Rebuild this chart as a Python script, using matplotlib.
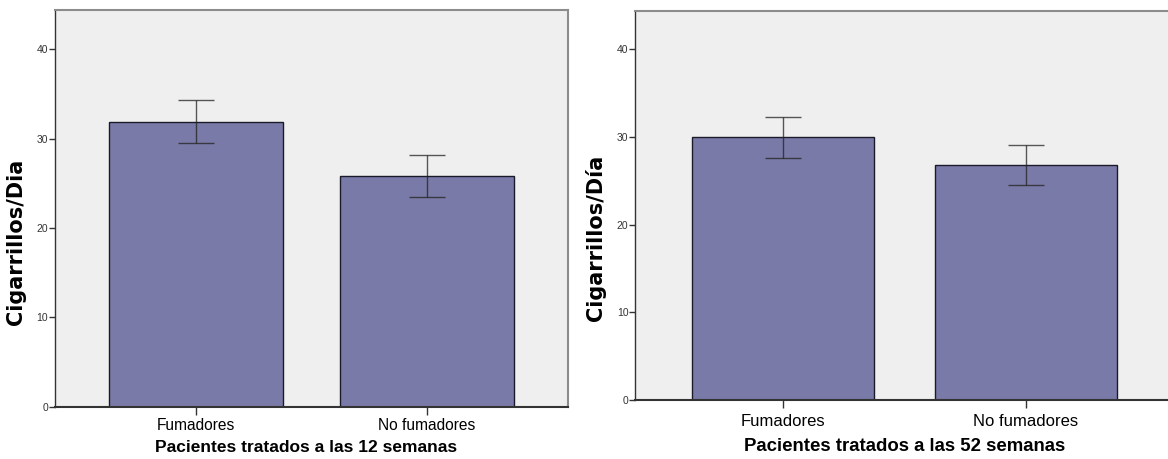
import matplotlib
matplotlib.use("Agg")
import matplotlib.pyplot as plt

plt.rcParams['font.family'] = ['Liberation Sans', 'DejaVu Sans']

categories = ["Fumadores", "No fumadores"]

# 12 weeks
means_12 = [31.9, 25.83]
err_low_12 = [29.5, 23.52]
err_high_12 = [34.34, 28.19]

# 52 weeks
means_52 = [30.0, 26.83]
err_low_52 = [27.6, 24.48]
err_high_52 = [32.3, 29.08]

ylabels = ["Cigarrillos/Dia", "Cigarrillos/Día"]
xlabels = ["Pacientes tratados a las 12 semanas", "Pacientes tratados a las 52 semanas"]
yticks = [0, 10, 20, 30, 40]

W, H = 1168, 459
fig = plt.figure(figsize=(W / 100, H / 100), dpi=100)
fig.patch.set_facecolor("white")

positions = [
    [55 / W, (H - 406.7) / H, (568 - 55) / W, (406.7 - 10) / H],
    [635.3 / W, (H - 400) / H, (1173.6 - 635.3) / W, (400 - 10.7) / H],
]
xtick_pads = [2, 4]
xtick_sizes = [11.2, 12.0]
xlabel_sizes = [12.5, 13.4]
ylabel_coords = [(-0.057, 0.415), (-0.055, 0.416)]
xlabel_coords = [(0.49, -0.085), (0.5, -0.098)]

bar_color = "#7a7aa8"
bg_color = "#efefef"

panels = [
    (means_12, err_low_12, err_high_12),
    (means_52, err_low_52, err_high_52),
]

for i, (means, lo, hi) in enumerate(panels):
    ax = fig.add_axes(positions[i])
    ax.set_facecolor(bg_color)
    x = list(range(len(categories)))
    ax.bar(x, means, width=0.752, color=bar_color, edgecolor="#1a1a2a",
           linewidth=1.0, zorder=2)
    yerr = [[m - l for m, l in zip(means, lo)], [h - m for m, h in zip(means, hi)]]
    ax.errorbar(x, means, yerr=yerr, fmt="none", ecolor="#222222", elinewidth=1.0,
                capsize=12.8, capthick=1.0, alpha=0.75, zorder=3)
    ax.set_xlim(-0.61, 1.61)
    ax.set_ylim(0, 44.4)
    ax.set_yticks(yticks)
    ax.set_yticklabels([str(t) for t in yticks], fontsize=7.5, color="#333333")
    ax.set_xticks(x)
    ax.set_xticklabels(categories, fontsize=xtick_sizes[i], color="black")
    ax.tick_params(axis="y", direction="out", length=4, width=1, color="#333333", pad=1)
    ax.tick_params(axis="x", direction="out", length=6, width=1, color="#333333",
                   pad=xtick_pads[i])
    for side in ["top", "right"]:
        ax.spines[side].set_color("#8c8c8c")
        ax.spines[side].set_linewidth(1.5)
    ax.spines["left"].set_color("#333333")
    ax.spines["bottom"].set_color("#333333")
    ax.spines["left"].set_linewidth(1.0)
    ax.spines["bottom"].set_linewidth(1.5)
    ax.set_ylabel(ylabels[i], fontsize=15, fontweight="bold",
                  family=["DejaVu Sans"])
    ax.yaxis.set_label_coords(*ylabel_coords[i])
    ax.set_xlabel(xlabels[i], fontsize=xlabel_sizes[i], fontweight="bold")
    ax.xaxis.set_label_coords(*xlabel_coords[i])

fig.savefig("out.png", dpi=100)
